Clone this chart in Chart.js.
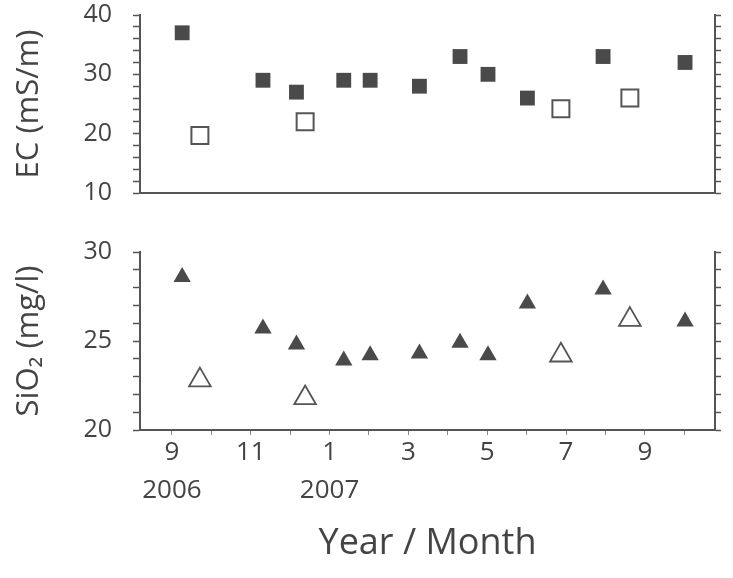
<!DOCTYPE html>
<html>
<head>
<meta charset="utf-8">
<script src="https://cdn.jsdelivr.net/npm/chart.js@4.4.0/dist/chart.umd.min.js"></script>
<style>
    body { margin: 0; background: #fff; }
    #wrap { position: relative; width: 733px; height: 578px; }
    canvas { position: absolute; left: 0; }
    #ecChart { top: 0; }
    #siChart { top: 215px; }
</style>
</head>
<body>
<div id="wrap">
    <canvas id="ecChart" width="733" height="215"></canvas>
    <canvas id="siChart" width="733" height="363"></canvas>
</div>
<script>
// x = months since Sep 2006 (sampling dates)
const filledMonths = [0.26, 2.31, 3.16, 4.36, 5.03, 6.28, 7.31, 8.02, 9.02, 10.94, 13.02]
const openMonths = [0.71, 3.38, 9.87, 11.62]

const ecFilled = [37, 29, 27, 29, 29, 28, 33, 30, 26, 33, 32]
const ecOpen = [19.7, 22, 24.2, 26]
const siFilled = [28.6, 25.7, 24.8, 23.9, 24.2, 24.3, 24.9, 24.2, 27.1, 27.9, 26.1]
const siOpen = [22.8, 21.8, 24.2, 26.2]

const monthTickPos = [0, 2, 4, 6, 8, 10, 12]
const monthTickText = ['9', '11', '1', '3', '5', '7', '9']
const yearTickText = ['2006', '', '2007', '', '', '', '']

const xMin = -0.81
const xMax = 13.78

const ink = '#444'
const axisInk = '#555'

Chart.defaults.font.family = '"Open Sans", "DejaVu Sans", sans-serif'
Chart.defaults.color = ink
Chart.defaults.animation = false

function pts(xs, ys) {
    const out = []
    for (let i = 0; i < xs.length; i++) {
        out.push({ x: xs[i], y: ys[i] })
    }
    return out
}

function leftAxis(min, max, step, major, title) {
    return {
        position: 'left',
        min: min,
        max: max,
        ticks: {
            stepSize: step,
            autoSkip: false,
            padding: 21,
            font: { size: 25 },
            callback: v => (v % major === 0 ? v : '')
        },
        grid: { drawOnChartArea: false, tickLength: 7, tickColor: axisInk, tickWidth: 1.5 },
        border: { color: axisInk, width: 2 },
        title: {
            display: true,
            text: title,
            font: { size: 31 },
            padding: { top: 11, bottom: 0 }
        },
        afterFit: s => {
            s.width = 140
            // labels may hang over the plot edges, the layout padding handles room
            s.paddingTop = 0
            s.paddingBottom = 0
        }
    }
}

function rightAxis(min, max, step) {
    return {
        position: 'right',
        min: min,
        max: max,
        ticks: { stepSize: step, display: false },
        grid: { drawOnChartArea: false, tickLength: 6, tickColor: axisInk, tickWidth: 1.5 },
        border: { color: axisInk, width: 2 },
        afterFit: s => {
            s.width = 18
            s.paddingTop = 0
            s.paddingBottom = 0
        }
    }
}

// upper panel: EC
new Chart(document.getElementById('ecChart'), {
    type: 'scatter',
    data: {
        datasets: [{
            data: pts(filledMonths, ecFilled),
            pointStyle: 'rect',
            radius: 10.5,
            backgroundColor: '#4a4a4a',
            borderWidth: 0
        }, {
            data: pts(openMonths, ecOpen),
            pointStyle: 'rect',
            radius: 12,
            backgroundColor: '#fff',
            borderColor: axisInk,
            borderWidth: 2
        }]
    },
    options: {
        responsive: false,
        layout: { padding: { top: 15, left: 0, right: 0, bottom: 0 } },
        plugins: { legend: { display: false }, tooltip: { enabled: false } },
        scales: {
            x: {
                type: 'linear',
                position: 'bottom',
                min: xMin,
                max: xMax,
                ticks: { display: false },
                grid: { drawOnChartArea: false, drawTicks: false },
                border: { color: axisInk, width: 2 },
                afterFit: s => { s.height = 22 }
            },
            y: leftAxis(10, 40, 2, 10, 'EC (mS/m)'),
            y2: rightAxis(10, 40, 2)
        }
    }
})

// lower panel: SiO2
new Chart(document.getElementById('siChart'), {
    type: 'scatter',
    data: {
        datasets: [{
            data: pts(filledMonths, siFilled),
            pointStyle: 'triangle',
            radius: 10,
            backgroundColor: '#4a4a4a',
            borderWidth: 0
        }, {
            data: pts(openMonths, siOpen),
            pointStyle: 'triangle',
            radius: 12.5,
            backgroundColor: '#fff',
            borderColor: axisInk,
            borderWidth: 1.8
        }]
    },
    options: {
        responsive: false,
        layout: { padding: { top: 37, left: 0, right: 0, bottom: 0 } },
        plugins: { legend: { display: false }, tooltip: { enabled: false } },
        scales: {
            x: {
                type: 'linear',
                position: 'bottom',
                min: xMin,
                max: xMax,
                ticks: {
                    stepSize: 1,
                    autoSkip: false,
                    includeBounds: false,
                    maxRotation: 0,
                    padding: -1,
                    font: { size: 26, lineHeight: 1.46 },
                    callback: v => {
                        const i = monthTickPos.indexOf(v)
                        if (i == -1) return ''
                        if (yearTickText[i] != '') return [monthTickText[i], yearTickText[i]]
                        return monthTickText[i]
                    }
                },
                grid: { drawOnChartArea: false, tickLength: 5, tickColor: '#888', tickWidth: 1 },
                border: { color: axisInk, width: 2 },
                title: {
                    display: true,
                    text: 'Year / Month',
                    font: { size: 36 },
                    padding: { top: 0, bottom: 13 }
                },
                afterFit: s => { s.height = 148 }
            },
            y: leftAxis(20, 30, 1, 5, 'SiO₂ (mg/l)'),
            y2: rightAxis(20, 30, 1)
        }
    }
})
</script>
</body>
</html>
